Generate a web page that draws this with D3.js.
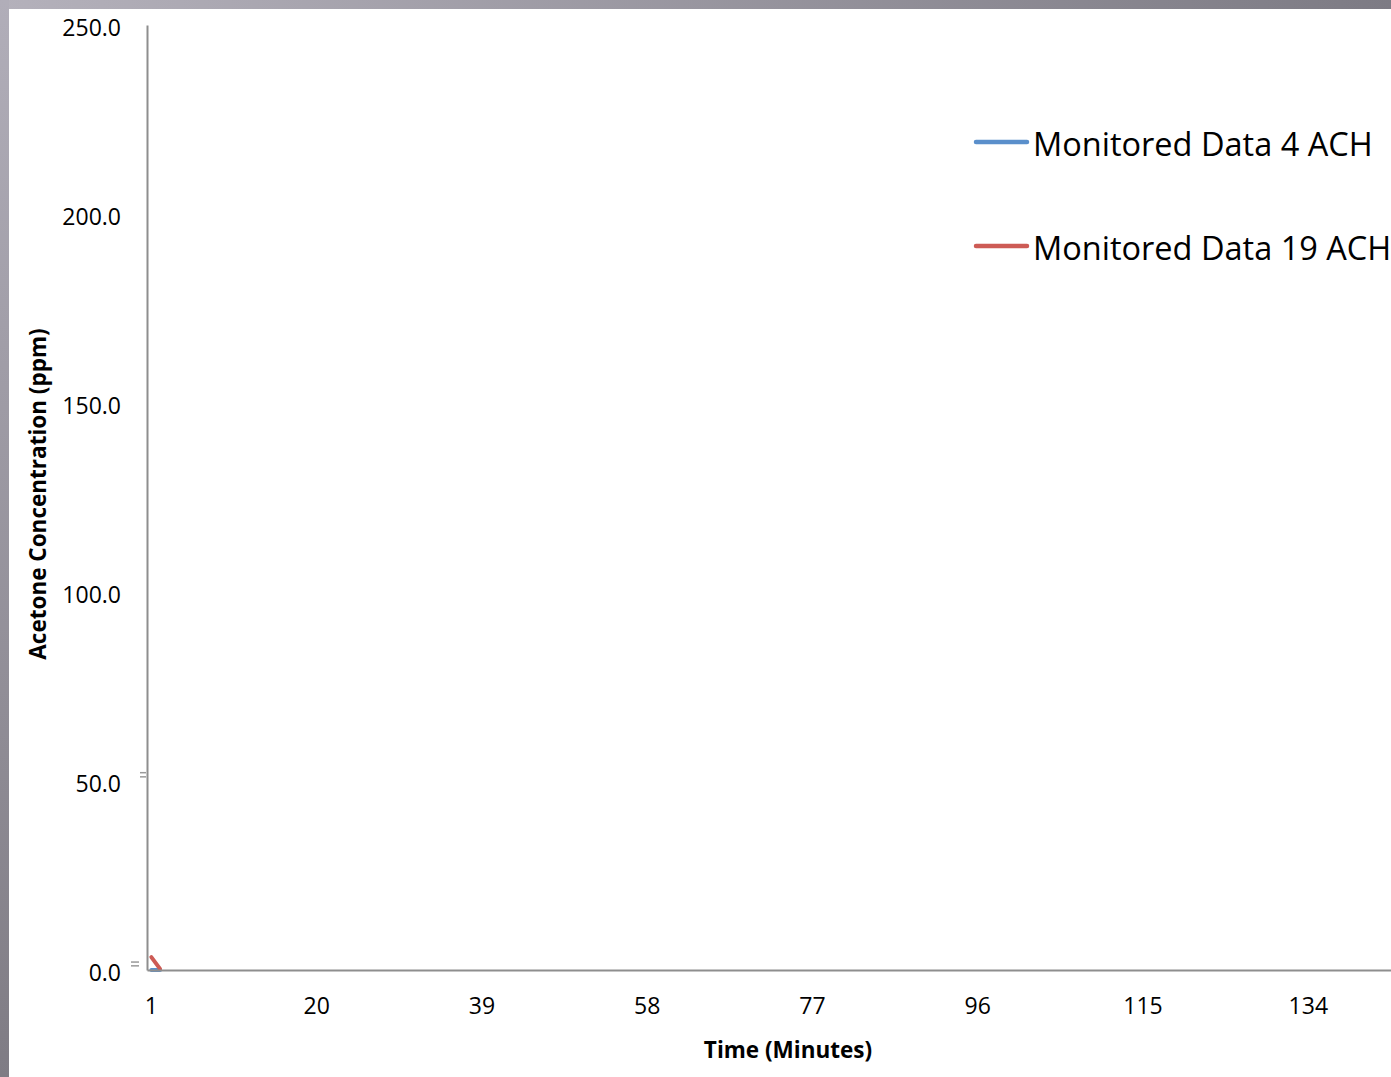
<!DOCTYPE html>
<html>
<head>
<meta charset="utf-8">
<script src="https://cdn.jsdelivr.net/npm/d3@7"></script>
<style>
  html, body { margin: 0; padding: 0; background: #fff; overflow: hidden; }
  svg { display: block; }
  text { font-family: "Open Sans", "Liberation Sans", sans-serif; fill: #000; }
</style>
</head>
<body>
<svg id="chart" width="1391" height="1077"></svg>
<script>
// Time axis categories (minutes) and the labels shown on the axis
const minutes = d3.range(1, 151);
const minuteTicks = [1, 20, 39, 58, 77, 96, 115, 134];

// Concentration axis ticks (ppm)
const ppmTicks = [0, 50, 100, 150, 200, 250];

// Monitored acetone concentration (ppm) per minute
const ach4 = [0.0, 0.0];
const ach19 = [3.4, 0.3];

const seriesNames = ["Monitored Data 4 ACH", "Monitored Data 19 ACH"];
const seriesColors = ["#5a8fcb", "#cd5b55"];

const svg = d3.select("#chart");
const W = 1391, H = 1077;

// Frame gradients
const defs = svg.append("defs");
const gTop = defs.append("linearGradient").attr("id", "gTop").attr("x1", 0).attr("x2", 1).attr("y1", 0).attr("y2", 0);
gTop.append("stop").attr("offset", 0).attr("stop-color", "#b4b1bb");
gTop.append("stop").attr("offset", 1).attr("stop-color", "#7d7b84");
const gLeft = defs.append("linearGradient").attr("id", "gLeft").attr("x1", 0).attr("x2", 0).attr("y1", 0).attr("y2", 1);
gLeft.append("stop").attr("offset", 0).attr("stop-color", "#b1aeb9");
gLeft.append("stop").attr("offset", 1).attr("stop-color", "#7f7c84");

svg.append("rect").attr("x", 0).attr("y", 0).attr("width", W).attr("height", 9).attr("fill", "url(#gTop)");
svg.append("rect").attr("x", 0).attr("y", 0).attr("width", 9).attr("height", H).attr("fill", "url(#gLeft)");

// Scales
const x0 = 147, step = 8.699;
const x = d3.scaleBand().domain(minutes).range([x0, x0 + minutes.length * step]).padding(0);
const xPos = m => x(m) + x.bandwidth() / 2;
const y = d3.scaleLinear().domain([0, 250]).range([970, 25]);

// Series lines
const line = d3.line().x((d, i) => xPos(minutes[i])).y(d => y(d));
[ach4, ach19].forEach((vals, k) => {
  svg.append("path")
    .datum(vals)
    .attr("d", line)
    .attr("fill", "none")
    .attr("stroke", seriesColors[k])
    .attr("stroke-width", 4)
    .attr("stroke-linejoin", "round")
    .attr("stroke-linecap", "round");
});

// Y axis
const yAxis = d3.axisLeft(y).tickValues(ppmTicks).tickSize(0).tickPadding(26)
  .tickFormat(d3.format(".1f"));
const gy = svg.append("g").attr("transform", `translate(${x0},0)`).call(yAxis);
gy.select(".domain").attr("stroke", "#8e8e8e").attr("stroke-width", 2);
gy.selectAll("text").attr("font-size", 23).attr("dy", "0.36em")
  .attr("transform", "translate(0,2)");

// Small tick marks left of the value axis
const stubs = [51.1, 52.2, 1.1, 2.1];
svg.append("g").selectAll("line").data(stubs).join("line")
  .attr("x1", (d, i) => i < 2 ? 140 : 131).attr("x2", (d, i) => i < 2 ? 146 : 139)
  .attr("y1", d => y(d)).attr("y2", d => y(d))
  .attr("stroke", "#9a9a9a").attr("stroke-width", 1.5);

// X axis
const xAxis = d3.axisBottom(x).tickValues(minuteTicks).tickSize(0).tickPadding(37);
const gx = svg.append("g").attr("transform", `translate(0,${y(0)})`).call(xAxis);
gx.select(".domain").attr("stroke", "#8e8e8e").attr("stroke-width", 2);
gx.selectAll("text").attr("font-size", 23).attr("dy", "0.3em");

// Axis titles
svg.append("text")
  .attr("transform", "translate(46,494) rotate(-90)")
  .attr("text-anchor", "middle")
  .attr("font-size", 22.5).attr("font-weight", "bold")
  .text("Acetone Concentration (ppm)");
svg.append("text")
  .attr("x", 788).attr("y", 1058)
  .attr("text-anchor", "middle")
  .attr("font-size", 22.5).attr("font-weight", "bold")
  .text("Time (Minutes)");

// Legend
const legend = svg.append("g");
seriesNames.forEach((name, k) => {
  const ly = 142 + k * 104;
  legend.append("line")
    .attr("x1", 976).attr("x2", 1027).attr("y1", ly).attr("y2", ly)
    .attr("stroke", seriesColors[k]).attr("stroke-width", 4.5).attr("stroke-linecap", "round");
  legend.append("text")
    .attr("x", 1033).attr("y", ly + 14)
    .attr("font-size", 32.5)
    .text(name);
});
</script>
</body>
</html>
